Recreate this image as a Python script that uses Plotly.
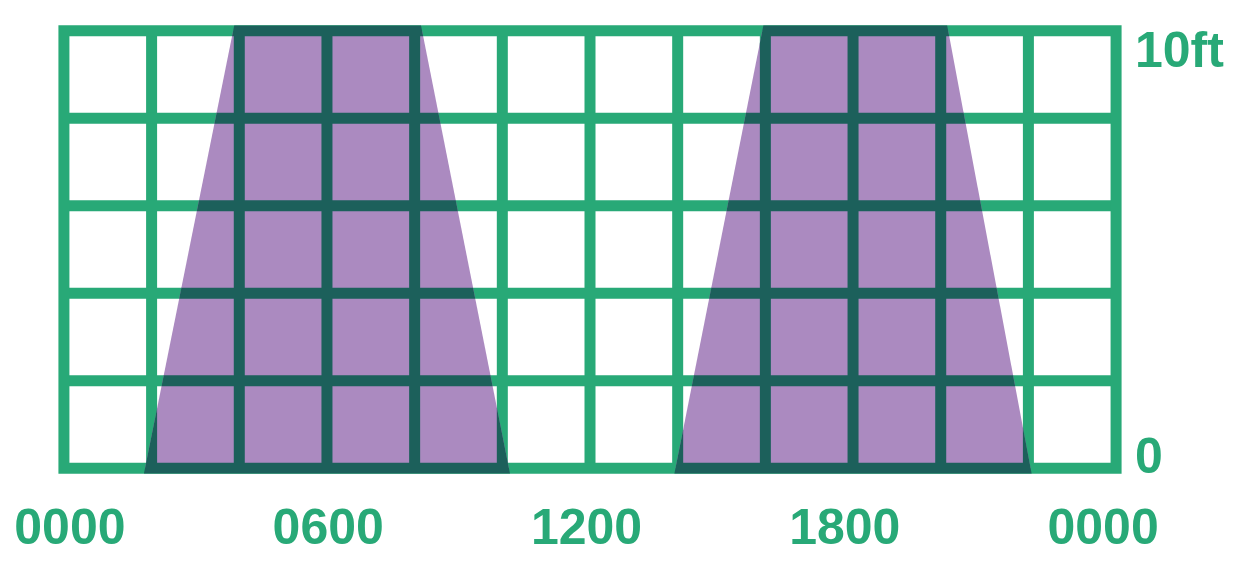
import numpy as np
import plotly.graph_objects as go

# ---- data ----
hour_ticks = [0, 6, 12, 18, 24]
hour_labels = ["0000", "0600", "1200", "1800", "0000"]
hour_grid = [0, 2, 4, 6, 8, 10, 12, 14, 16, 18, 20, 22, 24]
height_grid = [0, 2, 4, 6, 8, 10]
height_labels = ["0", "10ft"]
height_label_vals = [0, 10]

# tide windows: (time, height) corners, two high-water periods
tide1_hours = [1.85, 3.86, 8.17, 10.15]
tide1_heights = [0, 10, 10, 0]
tide2_hours = [13.95, 15.93, 20.17, 22.05]
tide2_heights = [0, 10, 10, 0]

GREEN = "#28a977"
PURPLE = "#ab8ac0"
DARK = "#1c605b"
LW = 11
FONT = "Liberation Sans, Arial, sans-serif"

W, H = 1245, 564
pxh = 1052 / 24.0   # pixels per hour
pxf = 44.0          # pixels per foot
pad = 0.5
hwx = LW / 2 / pxh
hwy = LW / 2 / pxf

xmin, xmax = hour_grid[0], hour_grid[-1]
ymin, ymax = height_grid[0], height_grid[-1]

fig = go.Figure()

# green inner grid
gx, gy = [], []
for x in hour_grid[1:-1]:
    gx += [x, x, None]
    gy += [ymin, ymax, None]
for y in height_grid[1:-1]:
    gx += [xmin, xmax, None]
    gy += [y, y, None]
fig.add_trace(go.Scatter(x=gx, y=gy, mode="lines", line=dict(color=GREEN, width=LW),
                         hoverinfo="skip", showlegend=False))
# green frame (closed with overlap so every corner is a join)
fig.add_trace(go.Scatter(x=[xmin, xmax, xmax, xmin, xmin, xmax],
                         y=[ymin, ymin, ymax, ymax, ymin, ymin],
                         mode="lines", line=dict(color=GREEN, width=LW),
                         hoverinfo="skip", showlegend=False))

# purple tide shapes
tides = [(tide1_hours, tide1_heights), (tide2_hours, tide2_heights)]
for hrs, hts in tides:
    fig.add_trace(go.Scatter(x=hrs + [hrs[0]], y=hts + [hts[0]], mode="lines", fill="toself",
                             fillcolor=PURPLE, line=dict(width=0, color=PURPLE),
                             hoverinfo="skip", showlegend=False))


# ---- dark grid inside the tide shapes (multiply look), via polygon clipping ----
def clip_poly(subject, clipper):
    area = 0.0
    n = len(clipper)
    for i in range(n):
        (x1, y1), (x2, y2) = clipper[i], clipper[(i + 1) % n]
        area += x1 * y2 - x2 * y1
    sgn = 1.0 if area > 0 else -1.0

    def inside(p, a, b):
        return sgn * ((b[0] - a[0]) * (p[1] - a[1]) - (b[1] - a[1]) * (p[0] - a[0])) >= 0

    def inter(s, e, a, b):
        dx1, dy1 = e[0] - s[0], e[1] - s[1]
        dx2, dy2 = b[0] - a[0], b[1] - a[1]
        den = dx1 * dy2 - dy1 * dx2
        t = ((a[0] - s[0]) * dy2 - (a[1] - s[1]) * dx2) / den
        return (s[0] + t * dx1, s[1] + t * dy1)

    out = list(subject)
    for i in range(n):
        a, b = clipper[i], clipper[(i + 1) % n]
        inp, out = out, []
        if not inp:
            break
        s = inp[-1]
        for e in inp:
            if inside(e, a, b):
                if not inside(s, a, b):
                    out.append(inter(s, e, a, b))
                out.append(e)
            elif inside(s, a, b):
                out.append(inter(s, e, a, b))
            s = e
    return out


rects = []
for x in hour_grid:
    rects.append([(x - hwx, ymin - hwy), (x + hwx, ymin - hwy), (x + hwx, ymax + hwy), (x - hwx, ymax + hwy)])
for y in height_grid:
    rects.append([(xmin - hwx, y - hwy), (xmax + hwx, y - hwy), (xmax + hwx, y + hwy), (xmin - hwx, y + hwy)])

dx, dy = [], []
for hrs, hts in tides:
    lo, hi = hts[0] - hwy, hts[1] + hwy
    span = hts[1] - hts[0]
    lft = lambda y: hrs[0] + (hrs[1] - hrs[0]) * (y - hts[0]) / span
    rgt = lambda y: hrs[3] + (hrs[2] - hrs[3]) * (y - hts[3]) / span
    clipper = [(lft(lo), lo), (lft(hi), hi), (rgt(hi), hi), (rgt(lo), lo)]
    for r in rects:
        pts = clip_poly(r, clipper)
        if len(pts) >= 3:
            dx += [p[0] for p in pts] + [pts[0][0], None]
            dy += [p[1] for p in pts] + [pts[0][1], None]
fig.add_trace(go.Scatter(x=dx, y=dy, mode="lines", fill="toself", fillcolor=DARK,
                         line=dict(width=0, color=DARK), hoverinfo="skip", showlegend=False))

# invisible trace carrying the time-label axis
fig.add_trace(go.Scatter(x=hour_ticks, y=[ymin] * len(hour_ticks), xaxis="x2", mode="markers",
                         marker=dict(opacity=0), hoverinfo="skip", showlegend=False))

# right-side height labels
shifts = {0: 12, 10: -19}
for v, t in zip(height_label_vals, height_labels):
    fig.add_annotation(x=xmax, y=v, xref="x", yref="y", text=t, showarrow=False,
                       xanchor="left", yanchor="middle", xshift=17, yshift=shifts[v],
                       font=dict(family=FONT, size=50, color=GREEN, weight="bold"))

left_m = 64 - pad * pxh
plot_w = (24 + 2 * pad) * pxh
top_m = 31 - pad * pxf
plot_h = (10 + 2 * pad) * pxf

# label axis: slightly tighter spacing than the grid (0 -> 70px, 24 -> 1103px)
lab_pxh = (1103 - 70) / 24.0
r0 = (left_m - 70) / lab_pxh
r1 = r0 + plot_w / lab_pxh

fig.update_layout(
    width=W, height=H,
    margin=dict(l=left_m, r=W - left_m - plot_w, t=top_m, b=H - top_m - plot_h, pad=0),
    plot_bgcolor="white", paper_bgcolor="white",
    xaxis=dict(range=[xmin - pad, xmax + pad], showgrid=False, zeroline=False, showline=False,
               showticklabels=False),
    xaxis2=dict(range=[r0, r1], overlaying="x", side="bottom", anchor="y",
                showgrid=False, zeroline=False, showline=False,
                tickvals=hour_ticks, ticktext=hour_labels, ticks="", ticklabelstandoff=3,
                tickfont=dict(family=FONT, size=50, color=GREEN, weight="bold")),
    yaxis=dict(range=[ymin - pad, ymax + pad], showgrid=False, zeroline=False, showline=False,
               showticklabels=False),
)

fig.write_html("out.html")
